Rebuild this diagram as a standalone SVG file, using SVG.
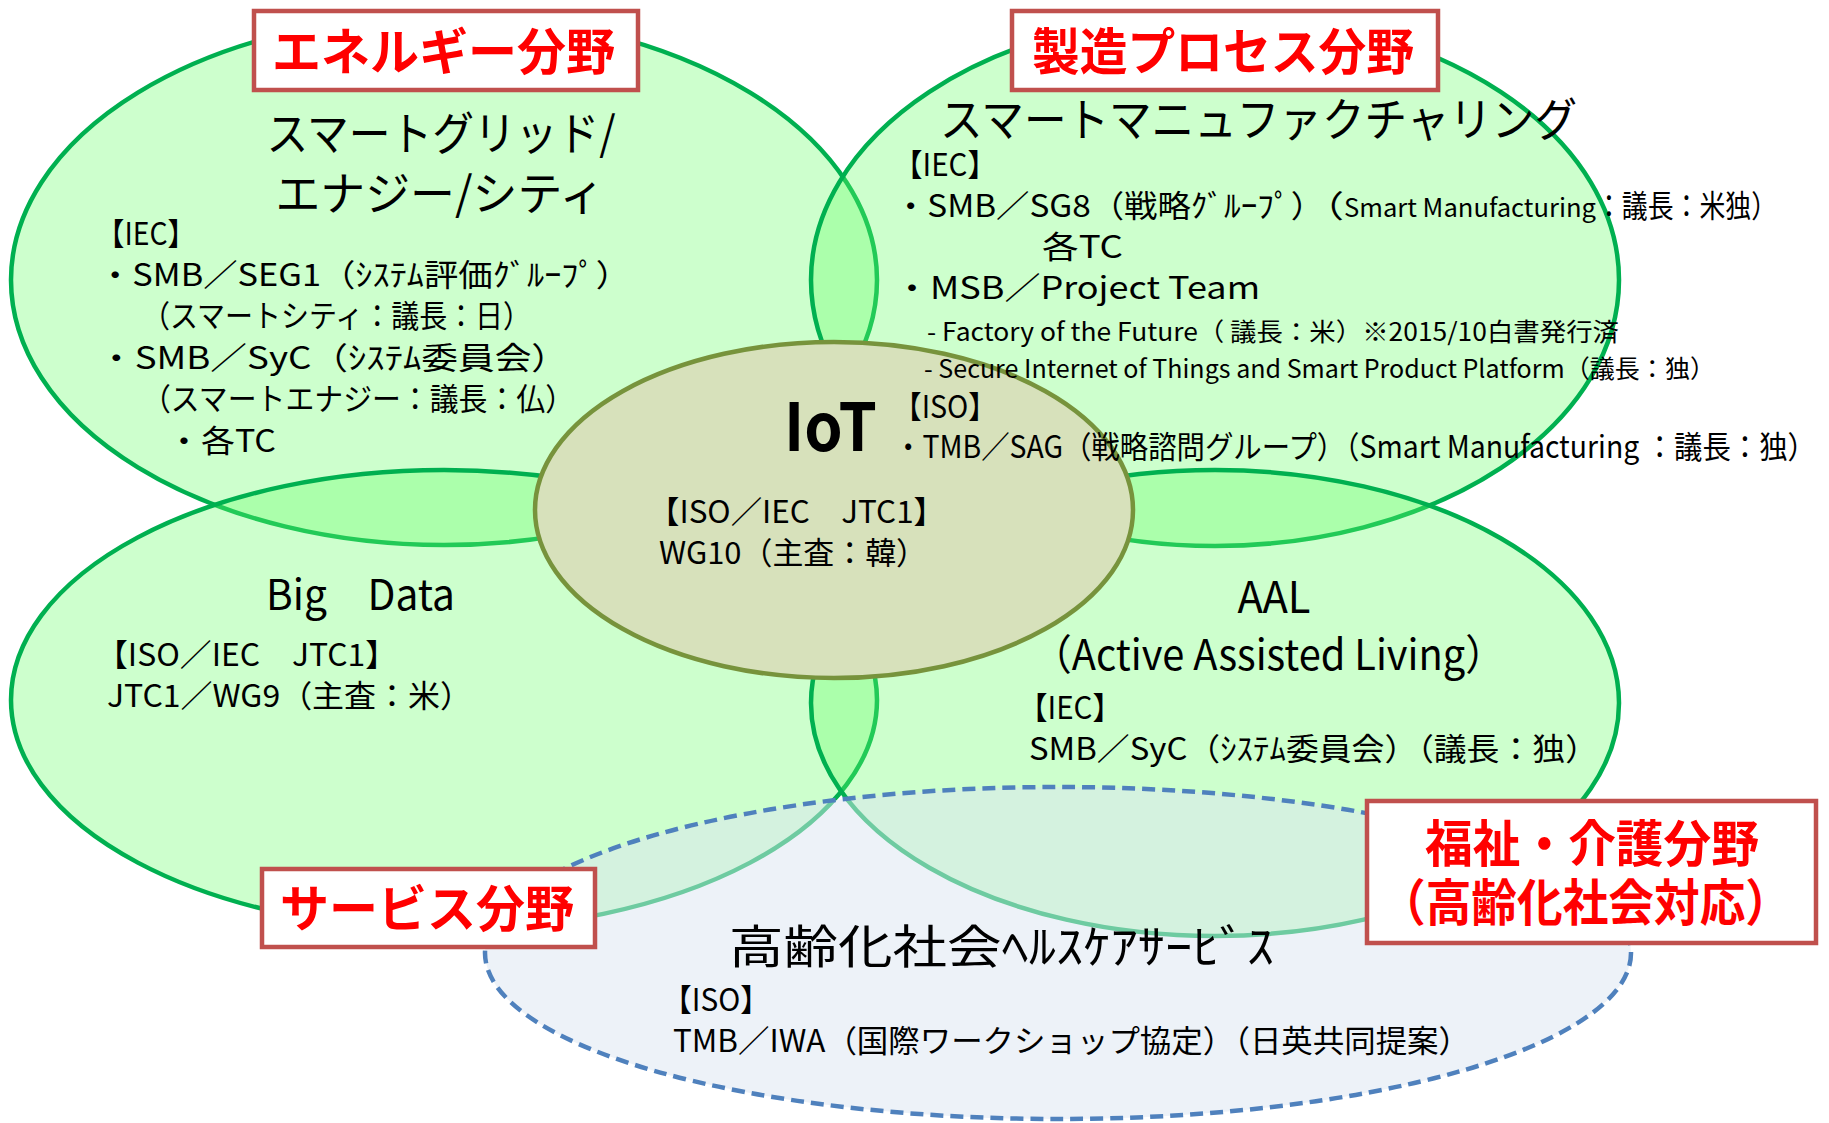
<svg xmlns="http://www.w3.org/2000/svg" width="1829" height="1123" viewBox="0 0 1829 1123">
<style>
.g{fill:#66ff66;fill-opacity:0.33;stroke:#00b050;stroke-width:4.5}
.t{font-family:"Noto Sans CJK JP","Noto Sans",sans-serif;fill:#000}
.b{font-size:31px}
.h{font-size:46px}
.s{font-size:25px}
.lb{fill:#fff;stroke:#c0504d;stroke-width:4.5}
.lt{font-family:"Noto Sans CJK JP","Noto Sans",sans-serif;font-weight:700;font-size:50px;fill:#ff0000}
</style>
<rect width="1829" height="1123" fill="#fff"/>
<g id="energy-ellipse"><ellipse class="g" cx="444" cy="280" rx="433" ry="265"/></g>
<g id="manufacturing-ellipse"><ellipse class="g" cx="1215" cy="280" rx="404" ry="266"/></g>
<g id="bigdata-ellipse"><ellipse class="g" cx="444" cy="700" rx="433" ry="230"/></g>
<g id="aal-ellipse"><ellipse class="g" cx="1215" cy="703" rx="404" ry="233"/></g>
<g id="iot-ellipse"><ellipse cx="834" cy="510" rx="299" ry="168" fill="#d7e1bb" stroke="#77933c" stroke-width="4.5"/></g>
<g id="healthcare-ellipse"><ellipse cx="1058" cy="953" rx="573" ry="166" fill="#dbe5f1" fill-opacity="0.5" stroke="#4f81bd" stroke-width="4.5" stroke-dasharray="13 7"/></g>

<g id="energy-text">
<text class="t h" x="441" y="150" text-anchor="middle" textLength="349" lengthAdjust="spacingAndGlyphs">スマートグリッド/</text>
<text class="t h" x="440" y="210" text-anchor="middle" textLength="329" lengthAdjust="spacingAndGlyphs">エナジー/シティ</text>
<text class="t b" x="96" y="245" textLength="100" lengthAdjust="spacingAndGlyphs">【IEC】</text>
<text class="t b" x="98" y="286" textLength="532" lengthAdjust="spacingAndGlyphs">・SMB／SEG1（ｼｽﾃﾑ評価ｸﾞﾙｰﾌﾟ）</text>
<text class="t b" x="142" y="327" textLength="389" lengthAdjust="spacingAndGlyphs">（スマートシティ：議長：日）</text>
<text class="t b" x="98" y="369" textLength="470" lengthAdjust="spacingAndGlyphs">・SMB／SyC（ｼｽﾃﾑ委員会）</text>
<text class="t b" x="142" y="410" textLength="432" lengthAdjust="spacingAndGlyphs">（スマートエナジー：議長：仏）</text>
<text class="t b" x="167" y="452" textLength="109" lengthAdjust="spacingAndGlyphs">・各TC</text>
</g>

<g id="manufacturing-text">
<text class="t h" x="940" y="136" textLength="637" lengthAdjust="spacingAndGlyphs">スマートマニュファクチャリング</text>
<text class="t b" x="893" y="176" textLength="104" lengthAdjust="spacingAndGlyphs">【IEC】</text>
<text class="t b" x="894" y="217"><tspan textLength="430" lengthAdjust="spacingAndGlyphs">・SMB／SG8（戦略ｸﾞﾙｰﾌﾟ）</tspan><tspan textLength="20" lengthAdjust="spacingAndGlyphs">（</tspan><tspan class="s" textLength="252" lengthAdjust="spacingAndGlyphs">Smart Manufacturing</tspan><tspan textLength="181" lengthAdjust="spacingAndGlyphs">：議長：米独）</tspan></text>
<text class="t b" x="1042" y="258" textLength="81" lengthAdjust="spacingAndGlyphs">各TC</text>
<text class="t b" x="894" y="299" textLength="366" lengthAdjust="spacingAndGlyphs">・MSB／Project Team</text>
<text class="t s" x="927" y="341" textLength="692" lengthAdjust="spacingAndGlyphs">- Factory of the Future（ 議長：米）※2015/10白書発行済</text>
<text class="t s" x="924" y="378" textLength="791" lengthAdjust="spacingAndGlyphs">-  Secure Internet of Things and Smart Product Platform（議長：独）</text>
<text class="t b" x="893" y="418" textLength="104" lengthAdjust="spacingAndGlyphs">【ISO】</text>
<text class="t b" x="894" y="458" textLength="922" lengthAdjust="spacingAndGlyphs">・TMB／SAG（戦略諮問グループ）（Smart Manufacturing ：議長：独）</text>
</g>

<g id="iot-text">
<text class="t" x="784" y="451" font-size="66" font-weight="700" textLength="93" lengthAdjust="spacingAndGlyphs">IoT</text>
<text class="t b" x="648" y="523" textLength="297" lengthAdjust="spacingAndGlyphs">【ISO／IEC　JTC1】</text>
<text class="t b" x="659" y="564" textLength="268" lengthAdjust="spacingAndGlyphs">WG10（主査：韓）</text>
</g>

<g id="bigdata-text">
<text class="t" x="266" y="610" font-size="42" textLength="189" lengthAdjust="spacingAndGlyphs">Big　Data</text>
<text class="t b" x="96" y="666" textLength="301" lengthAdjust="spacingAndGlyphs">【ISO／IEC　JTC1】</text>
<text class="t b" x="107" y="707" textLength="365" lengthAdjust="spacingAndGlyphs">JTC1／WG9（主査：米）</text>
</g>

<g id="aal-text">
<text class="t" x="1274" y="613" font-size="44" text-anchor="middle" textLength="73" lengthAdjust="spacingAndGlyphs">AAL</text>
<text class="t" x="1032" y="670" font-size="42" textLength="473" lengthAdjust="spacingAndGlyphs">（Active Assisted Living）</text>
<text class="t b" x="1018" y="719" textLength="104" lengthAdjust="spacingAndGlyphs">【IEC】</text>
<text class="t b" x="1029" y="760" textLength="569" lengthAdjust="spacingAndGlyphs">SMB／SyC（ｼｽﾃﾑ委員会）（議長：独）</text>
</g>

<g id="healthcare-text">
<text class="t h" x="729" y="963" textLength="545" lengthAdjust="spacingAndGlyphs">高齢化社会ﾍﾙｽｹｱｻｰﾋﾞｽ</text>
<text class="t b" x="662" y="1011" textLength="108" lengthAdjust="spacingAndGlyphs">【ISO】</text>
<text class="t b" x="673" y="1052" textLength="797" lengthAdjust="spacingAndGlyphs">TMB／IWA（国際ワークショップ協定）（日英共同提案）</text>
</g>

<g id="label-energy">
<rect class="lb" x="254" y="11" width="384" height="79"/>
<text class="lt" x="272" y="70" textLength="343" lengthAdjust="spacingAndGlyphs">エネルギー分野</text>
</g>
<g id="label-manufacturing">
<rect class="lb" x="1012" y="11" width="426" height="79"/>
<text class="lt" x="1032" y="70" textLength="382" lengthAdjust="spacingAndGlyphs">製造プロセス分野</text>
</g>
<g id="label-service">
<rect class="lb" x="262" y="869" width="333" height="78"/>
<text class="lt" x="280" y="927" textLength="294" lengthAdjust="spacingAndGlyphs">サービス分野</text>
</g>
<g id="label-welfare">
<rect class="lb" x="1367" y="801" width="449" height="142"/>
<text class="lt" x="1425" y="862" textLength="334" lengthAdjust="spacingAndGlyphs">福祉・介護分野</text>
<text class="lt" x="1380" y="921" textLength="411" lengthAdjust="spacingAndGlyphs">（高齢化社会対応）</text>
</g>
</svg>
